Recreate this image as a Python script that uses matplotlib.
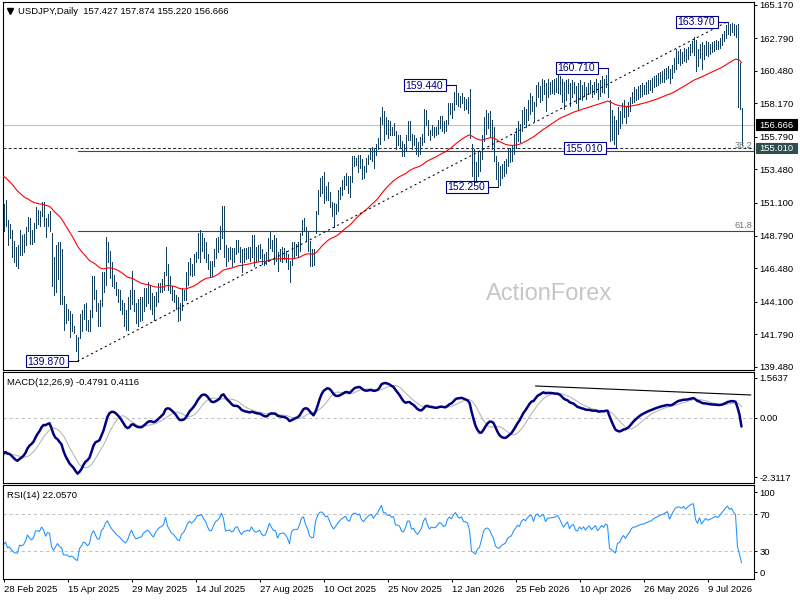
import numpy as np
import pandas as pd
import matplotlib
matplotlib.use("Agg")
import matplotlib.pyplot as plt
from matplotlib.patches import Rectangle
from matplotlib.lines import Line2D
from matplotlib.transforms import blended_transform_factory

plt.rcParams['font.family'] = ['Liberation Sans', 'DejaVu Sans']
plt.rcParams['lines.scale_dashes'] = False

# ---------------- data ----------------
title_text = "USDJPY,Daily  157.427 157.874 155.220 156.666"
macd_text = "MACD(12,26,9) -0.4791 0.4116"
rsi_text = "RSI(14) 22.0570"
watermark = "ActionForex"
first_day = "2025-02-28"
no_bar_days = ["2025-12-25", "2026-01-01"]

high = [
    151.0, 151.3, 149.9, 149.6, 149.2, 148.4, 148.0, 148.1, 149.2, 148.8,
    148.9, 149.4, 150.1, 150.0, 149.2, 149.7, 150.8, 150.6, 150.5, 151.2,
    151.2, 150.0, 150.3, 150.5, 149.0, 147.3, 148.1, 148.3, 148.3, 147.8,
    144.5, 143.9, 143.6, 143.4, 143.2, 142.4, 141.7, 141.6, 143.2, 143.5,
    143.9, 144.0, 142.8, 143.5, 145.9, 145.9, 144.9, 144.0, 144.2, 146.2,
    146.2, 148.65, 148.3, 147.7, 146.9, 146.0, 145.5, 145.0, 144.9, 144.2,
    144.0, 143.5, 144.4, 144.9, 146.3, 144.9, 144.0, 144.3, 144.4, 144.4,
    145.1, 145.1, 145.5, 145.3, 144.7, 144.5, 144.8, 145.4, 145.4, 145.7,
    146.2, 148.0, 146.8, 145.9, 145.2, 144.9, 144.6, 144.4, 144.0, 145.1,
    144.9, 146.2, 146.9, 147.2, 146.8, 147.5, 147.6, 149.0, 149.2, 149.0,
    148.6, 148.3, 147.5, 147.0, 147.0, 147.8, 148.6, 148.7, 149.5, 150.9,
    150.9, 148.1, 147.9, 148.0, 147.9, 147.9, 148.5, 148.5, 148.0, 147.8,
    147.9, 147.9, 148.0, 148.0, 148.8, 148.8, 148.0, 148.1, 148.2, 147.8,
    147.5, 147.6, 148.6, 149.1, 148.5, 148.8, 148.6, 147.6, 147.8, 148.0,
    147.9, 147.7, 147.5, 147.0, 148.3, 148.3, 148.2, 148.3, 149.0, 149.9,
    150.0, 149.4, 149.1, 148.4, 147.8, 147.8, 150.5, 152.0, 152.9, 153.0,
    153.3, 152.3, 152.6, 151.9, 151.2, 151.1, 151.0, 152.0, 152.2, 152.7,
    153.0, 153.2, 153.0, 153.0, 154.4, 154.4, 154.3, 154.5, 154.5, 154.2,
    153.7, 154.3, 154.5, 155.0, 155.1, 155.0, 155.3, 155.7, 157.2, 157.9,
    157.6, 157.2, 157.0, 156.9, 156.5, 156.8, 156.2, 155.9, 155.9, 155.5,
    155.3, 155.9, 156.9, 156.9, 156.0, 155.9, 155.7, 155.4, 155.8, 156.0,
    157.8, 157.7, 157.0, 156.3, 156.6, 156.5, 156.5, 157.0, 157.3, 157.3,
    156.9, 157.0, 158.2, 158.2, 158.2, 159.0, 159.44, 158.9, 158.7, 158.9,
    158.6, 158.5, 158.6, 159.2, 155.3, 154.9, 154.0, 154.8, 154.8, 155.9,
    157.2, 157.7, 157.5, 157.6, 157.0, 156.5, 154.4, 154.0, 153.7, 153.9,
    154.1, 154.2, 154.9, 155.0, 155.2, 156.0, 156.4, 156.9, 156.7, 157.7,
    157.9, 157.8, 158.4, 158.9, 158.7, 158.3, 159.5, 159.7, 159.4, 159.9,
    159.8, 159.6, 159.9, 159.7, 159.8, 159.9, 160.0, 160.5, 160.1, 159.9,
    159.7, 159.8, 159.9, 159.6, 159.8, 159.7, 159.4, 159.6, 159.8, 159.5,
    159.7, 159.3, 159.6, 159.8, 159.5, 159.7, 159.9, 159.6, 159.8, 160.1,
    159.9, 160.2, 160.71, 158.4, 157.7, 157.3, 157.0, 157.9, 157.6, 158.2,
    158.4, 158.0, 158.3, 158.6, 159.0, 159.3, 159.2, 159.4, 159.5, 159.6,
    159.5, 159.7, 159.8, 159.8, 160.0, 160.1, 160.2, 160.3, 160.4, 160.5,
    160.6, 160.7, 160.8, 160.6, 160.9, 161.4, 162.0, 161.9, 162.0, 161.8,
    162.1, 162.0, 162.2, 162.4, 162.6, 162.9, 162.7, 162.0, 162.4, 162.5,
    162.3, 162.6, 162.5, 162.4, 162.5, 162.6, 162.7, 162.6, 162.8, 163.1,
    163.3, 163.7, 163.97, 163.8, 163.9, 163.8, 163.7, 163.8, 161.0, 157.874,
]
low = [
    149.1, 149.5, 148.1, 148.6, 147.3, 146.9, 146.6, 146.5, 147.4, 147.4,
    147.6, 148.1, 149.1, 148.2, 148.2, 148.3, 149.3, 149.6, 149.5, 150.2,
    149.5, 148.7, 149.5, 149.1, 145.2, 144.6, 144.8, 145.7, 143.9, 143.9,
    142.1, 142.6, 142.8, 141.6, 142.0, 141.9, 140.6, 139.87, 141.5, 142.0,
    142.9, 142.1, 142.0, 142.0, 143.0, 144.3, 143.4, 142.4, 142.4, 143.8,
    144.8, 145.3, 146.9, 145.8, 145.2, 145.1, 144.6, 144.1, 143.5, 143.2,
    142.4, 142.1, 142.1, 143.6, 143.9, 143.4, 142.6, 142.4, 142.7, 142.8,
    143.4, 143.8, 144.0, 143.6, 143.2, 142.8, 143.8, 144.1, 144.8, 144.8,
    144.9, 146.0, 144.9, 144.7, 144.2, 144.1, 143.6, 142.7, 142.8, 143.5,
    144.2, 144.2, 145.3, 146.0, 145.9, 146.0, 146.9, 147.2, 146.9, 147.7,
    147.2, 146.9, 146.4, 145.9, 145.9, 146.6, 147.2, 147.6, 147.8, 148.6,
    147.3, 146.6, 147.0, 147.1, 146.6, 146.9, 147.5, 147.6, 146.9, 146.2,
    146.9, 147.1, 147.2, 147.0, 147.3, 146.6, 146.9, 147.0, 147.2, 146.8,
    146.7, 146.8, 147.0, 147.9, 147.7, 146.8, 147.0, 146.3, 147.0, 146.9,
    147.1, 146.9, 146.4, 145.5, 146.7, 147.2, 147.4, 147.3, 147.7, 148.8,
    149.2, 148.4, 147.7, 146.6, 146.6, 146.7, 149.0, 150.3, 151.6, 151.8,
    151.1, 151.3, 151.3, 150.8, 150.2, 149.4, 150.3, 150.5, 151.4, 151.7,
    152.1, 152.4, 151.8, 151.5, 152.6, 153.7, 153.8, 153.3, 153.6, 152.8,
    152.9, 153.3, 153.9, 154.2, 154.1, 153.6, 154.5, 154.9, 155.3, 156.7,
    155.6, 156.0, 155.7, 155.9, 155.9, 155.9, 154.9, 155.2, 155.0, 154.4,
    154.4, 154.8, 155.6, 155.6, 154.9, 155.2, 154.6, 154.4, 154.6, 155.2,
    155.4, 156.6, 155.9, 155.6, 155.9, 155.8, 155.9, 156.0, 156.4, 156.2,
    156.1, 156.2, 156.7, 157.4, 157.1, 157.7, 158.1, 158.0, 157.9, 158.2,
    157.7, 157.8, 157.5, 155.7, 153.0, 152.7, 152.7, 153.0, 153.4, 154.2,
    155.5, 156.0, 156.4, 155.8, 154.9, 154.1, 152.8, 152.25, 152.4, 152.9,
    153.0, 153.2, 153.7, 154.0, 154.1, 154.6, 155.0, 155.5, 155.4, 156.2,
    156.7, 156.5, 157.0, 157.4, 157.6, 156.9, 158.0, 158.6, 158.3, 158.4,
    158.8, 157.6, 158.6, 158.8, 158.9, 158.8, 159.0, 158.9, 158.8, 158.3,
    157.8, 158.4, 158.9, 158.0, 158.6, 158.9, 158.2, 157.8, 158.5, 158.4,
    158.7, 158.5, 158.8, 158.9, 158.6, 158.8, 159.0, 158.5, 158.7, 159.0,
    158.9, 159.3, 158.6, 155.5, 155.6, 155.3, 155.01, 156.0, 156.4, 156.8,
    157.2, 156.8, 157.3, 157.6, 158.2, 158.3, 158.4, 158.5, 158.6, 158.7,
    158.8, 158.8, 158.9, 159.1, 159.0, 159.3, 159.4, 159.5, 159.6, 159.7,
    159.7, 159.9, 160.0, 159.6, 160.0, 160.4, 160.6, 161.0, 160.9, 161.0,
    161.2, 161.1, 161.3, 161.6, 161.8, 161.6, 160.5, 160.8, 161.4, 160.6,
    161.3, 161.6, 161.5, 161.7, 161.8, 161.9, 162.0, 162.0, 162.1, 162.3,
    162.6, 162.8, 163.1, 163.0, 163.2, 163.0, 162.9, 157.9, 157.8, 155.22,
]

last_close = 156.666
marked_level = 155.010
swing_idx = [37, 226, 247, 302, 306, 362]
swing_val = [139.870, 159.440, 152.250, 160.710, 155.010, 163.970]
fib_low, fib_high, fib_start = 139.870, 163.970, 37
fib_pcts = [38.2, 61.8]
trend_idx = [37, 362]
trend_val = [139.870, 163.970]
macd_trend_idx = [266.1, 373.6]
macd_trend_val = [1.24, 0.89]
price_ticks = [165.170, 162.790, 160.480, 158.170, 155.790, 153.480,
               151.100, 148.790, 146.480, 144.100, 141.790, 139.480]
macd_ticks = [1.5637, 0.0, -2.3117]
macd_tick_labels = ["1.5637", "0.00", "-2.3117"]
rsi_levels = [70, 30]

# indicator state just before the first bar (read from the left edge)
ema55_seed = 153.1
ema12_seed, ema26_seed = 151.2, 152.6
signal_seed = -1.46
rsi_prev_price, rsi_gain_seed, rsi_loss_seed = 150.3, 0.25, 0.40

# ---------------- indicators ----------------
H = np.array(high)
L = np.array(low)
n = len(H)
idx = np.arange(n)
mid = (H + L) / 2.0


def ema(x, period, seed):
    a = 2.0 / (period + 1)
    out = np.empty(len(x))
    p = seed
    for i, v in enumerate(x):
        p += a * (v - p)
        out[i] = p
    return out


ema55 = ema(mid, 55, ema55_seed)
macd = ema(mid, 12, ema12_seed) - ema(mid, 26, ema26_seed)
padded = np.concatenate([np.full(8, signal_seed), macd])
signal = np.convolve(padded, np.ones(9) / 9.0, mode="valid")

chg = np.diff(np.concatenate([[rsi_prev_price], mid]))
gains = np.clip(chg, 0, None)
losses = np.clip(-chg, 0, None)
ag, al = rsi_gain_seed, rsi_loss_seed
rsi = np.empty(n)
for i in range(n):
    ag = (ag * 13 + gains[i]) / 14.0
    al = (al * 13 + losses[i]) / 14.0
    rsi[i] = 100.0 - 100.0 / (1.0 + ag / al) if al > 0 else 100.0

days = pd.bdate_range(first_day, periods=n + 10)
days = days[~days.isin(pd.to_datetime(no_bar_days))][:n]
tick_pos = np.arange(0, n, 32)
tick_lab = [f"{d.day} {d:%b %Y}" for d in days[tick_pos]]

# ---------------- layout ----------------
W, HH = 800, 600
fig = plt.figure(figsize=(8, 6), dpi=100)
fig.patch.set_facecolor("white")


def axes_px(x0, y0, x1, y1):
    return fig.add_axes([x0 / W, 1 - y1 / HH, (x1 - x0) / W, (y1 - y0) / HH])


ax = axes_px(3, 2, 754, 370)
axm = axes_px(3, 372, 754, 483)
axr = axes_px(3, 485, 754, 579)

XMIN, XMAX = -0.25, 375.25
PPX = 0.070967  # price per pixel
ax.set_ylim(165.5035 - PPX * 370, 165.5035 - PPX * 2)
axm.set_ylim(-(483 - 417.8) / 25.65, (417.8 - 372) / 25.65)
axr.set_ylim(0.0, 101.6)

BAR = "#12405e"
FS = 6.8
for a in (ax, axm, axr):
    a.set_xlim(XMIN, XMAX)
    for s in a.spines.values():
        s.set_linewidth(0.8)
        s.set_color("black")
    a.yaxis.tick_right()
    a.tick_params(axis="y", direction="out", length=2.5, width=0.7, pad=1.5,
                  labelsize=FS, colors="black")
    a.set_facecolor("white")

ax.set_xticks([])
axm.set_xticks([])

# ---- main panel ----
ax.vlines(idx, L, H, colors=BAR, linewidth=0.72, antialiased=False, zorder=3)
ax.plot(idx, ema55, color="#ff0000", lw=0.8, zorder=4)
ax.axhline(last_close, color="#c0c0c0", lw=0.8, zorder=2)
ax.axhline(marked_level, color="#303030", lw=0.75, dashes=(2.2, 1.5), zorder=2)
for p in fib_pcts:
    lvl = fib_high - (fib_high - fib_low) * p / 100.0
    ax.plot([fib_start, XMAX], [lvl, lvl], color="#2f4f4f", lw=0.8, zorder=2)
    ax.annotate(f"{p:.1f}", xy=(1.0, lvl), xycoords=blended_transform_factory(ax.transAxes, ax.transData),
                xytext=(-1.5, 1.2), textcoords="offset points", ha="right", va="bottom",
                fontsize=6.6, color="#66747e", zorder=6)
ax.plot(trend_idx, trend_val, color="black", lw=0.75, dashes=(1.5, 2.2), zorder=5)
ax.set_yticks(price_ticks)
ax.set_yticklabels([f"{v:.3f}" for v in price_ticks])

# ---- MACD panel ----
axm.axhline(0, color="#c0c0c0", lw=0.75, dashes=(2.2, 2.2))
axm.plot(idx, signal, color="#b4b4b4", lw=0.75)
axm.plot(idx, macd, color="#000080", lw=1.8, solid_capstyle="round")
axm.plot(macd_trend_idx, macd_trend_val, color="black", lw=0.8)
axm.set_yticks(macd_ticks)
axm.set_yticklabels(macd_tick_labels)

# ---- RSI panel ----
for lv in rsi_levels:
    axr.axhline(lv, color="#c0c0c0", lw=0.75, dashes=(2.2, 2.2))
axr.plot(idx, rsi, color="#1e90ff", lw=0.75)
rsi_tick_pos = [101.6 - 7.3 / 0.925, 70, 30, 6.7 / 0.925]
axr.set_yticks(rsi_tick_pos)
axr.set_yticklabels(["100", "70", "30", "0"])
axr.set_xticks(tick_pos)
axr.set_xticklabels(tick_lab)
axr.tick_params(axis="x", direction="out", length=2.5, width=0.7, pad=1.5,
                labelsize=FS)
for t in axr.get_xticklabels():
    t.set_ha("left")


# ---------------- annotations in pixels ----------------
def ftext(x, y_top, s, fs, color="black", ha="left", **kw):
    """Text whose cap-height centre sits at pixel row y_top (top-down)."""
    fs_px = fs * 100 / 72.0
    yb = HH - y_top - 0.358 * fs_px
    fig.text(x / W, yb / HH, s, fontsize=fs, color=color, ha=ha, va="baseline", **kw)


def box_disp(x0, x1, yc, h, fc, ec, text, tc, fs):
    fig.add_artist(Rectangle((x0 / W, (yc - h / 2) / HH), (x1 - x0) / W, h / HH,
                             transform=fig.transFigure, fc=fc, ec=ec, lw=0.8, zorder=10))
    fs_px = fs * 100 / 72.0
    fig.text((x0 + x1) / 2 / W, (yc - 0.358 * fs_px) / HH, text, fontsize=fs,
             color=tc, ha="center", va="baseline", zorder=11)


# title & panel labels
fig.add_artist(Line2D([10 / W], [1 - 10.7 / HH], marker="v", markersize=4.2,
                      color="black", transform=fig.transFigure))
ftext(18.3, 10.7, title_text, FS)
ftext(7.3, 381.7, macd_text, FS)
ftext(7.3, 494.7, rsi_text, FS)

# watermark
fig.text(549 / W, 1 - 294.5 / HH, watermark, fontsize=17, color="#c6c6c6",
         ha="center", va="center", zorder=1)

# swing labels
for i_bar, val in zip(swing_idx, swing_val):
    bx, by = ax.transData.transform((i_bar, val))
    right = bx - 10
    box_disp(right - 42, right, by, 12, "white", "#000080", f"{val:.3f}", "#000080", 7.5)
    fig.add_artist(Line2D([right / W, bx / W], [by / HH, by / HH], color="#000080",
                          lw=0.8, transform=fig.transFigure, zorder=9))

# right-axis highlighted price boxes
for val, fc in [(last_close, "black"), (marked_level, "#2f4f4f")]:
    _, by = ax.transData.transform((0, val))
    box_disp(755.5, 797, by, 10.5, fc, fc, f"{val:.3f}", "white", FS)

fig.savefig("out.png", dpi=100, facecolor="white")
